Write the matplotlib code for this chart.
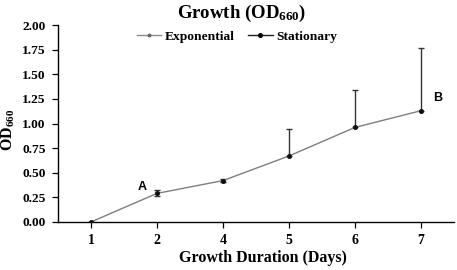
import matplotlib
matplotlib.use("Agg")
import matplotlib.pyplot as plt
from matplotlib.lines import Line2D
import numpy as np

days = ["1", "2", "4", "5", "6", "7"]
od660 = [0.00, 0.29, 0.42, 0.67, 0.96, 1.13]
err_low = [0.00, 0.03, 0.015, 0.00, 0.00, 0.00]
err_high = [0.00, 0.035, 0.015, 0.27, 0.38, 0.64]
yticks = [0.00, 0.25, 0.50, 0.75, 1.00, 1.25, 1.50, 1.75, 2.00]

plt.rcParams['mathtext.fontset'] = 'custom'
plt.rcParams['mathtext.rm'] = 'Liberation Serif:bold'
plt.rcParams['mathtext.it'] = 'Liberation Serif:bold'
plt.rcParams['mathtext.bf'] = 'Liberation Serif:bold'

serif = ["Liberation Serif", "DejaVu Serif"]
sans = ["Liberation Sans", "DejaVu Sans"]

fig = plt.figure(figsize=(4.57, 2.70), dpi=100)
ax = fig.add_axes([0.127, 0.178, 0.866, 0.729])

x = np.arange(len(days))
ax.errorbar(x, od660, yerr=[err_low, err_high], fmt='none', ecolor='#333333',
            elinewidth=1.0, capsize=2.2, capthick=1.0, zorder=2)
ax.plot(x, od660, color='#7f7f7f', lw=1.0, zorder=3)
ax.plot(x, od660, linestyle='none', marker='o', ms=2.6, color='#111111', zorder=4)

ax.set_xlim(-0.5, len(days) - 0.5)
ax.set_ylim(0, 2.0)
ax.set_xticks(x)
ax.set_xticklabels(days, fontfamily=serif, fontweight='bold', fontsize=10)
ax.set_yticks(yticks)
ax.set_yticklabels([f"{v:.2f}" for v in yticks], fontfamily=serif, fontweight='bold', fontsize=9.6)
ax.tick_params(axis='y', direction='out', length=4, width=0.9, pad=5)
ax.tick_params(axis='x', direction='out', length=4, width=0.9, pad=5)
for s in ['top', 'right']:
    ax.spines[s].set_visible(False)
for s in ['left', 'bottom']:
    ax.spines[s].set_linewidth(1.0)
    ax.spines[s].set_color('black')

ax.set_xlabel("Growth Duration (Days)", fontfamily=serif, fontweight='bold', fontsize=11.5)
ax.xaxis.set_label_coords((263 - 58) / 396, (222 - 250) / 197)
ax.set_ylabel("OD$_{\\mathbf{660}}$", fontfamily=serif, fontweight='bold', fontsize=11.5)
ax.yaxis.set_label_coords((17 - 58) / 396, (222 - 130) / 197)

fig.text(242/457, 1 - 13/270, "Growth (OD$_{\\mathbf{660}}$)", ha='center', va='center',
         fontfamily=serif, fontweight='bold', fontsize=13.5)

ax.text(0.78, 0.36, "A", fontfamily=sans, fontweight='bold', fontsize=9, ha='center', va='center')
ax.text(5.25, 1.26, "B", fontfamily=sans, fontweight='bold', fontsize=9, ha='center', va='center')

handles = [Line2D([0], [0], color='#8c8c8c', lw=1.0, marker='o', ms=1.8, markerfacecolor='#666666', markeredgecolor='#666666'),
           Line2D([0], [0], color='#222222', lw=1.0, marker='o', ms=2.6, markerfacecolor='black', markeredgecolor='black')]
leg = fig.legend(handles, ["Exponential", "Stationary"], loc='center', bbox_to_anchor=(237/457, 1 - 37/270),
                 ncol=2, frameon=False, prop={'family': serif, 'weight': 'bold', 'size': 9.7},
                 handlelength=1.8, handletextpad=0.3, columnspacing=1.0)

fig.savefig("out.png", dpi=100)
